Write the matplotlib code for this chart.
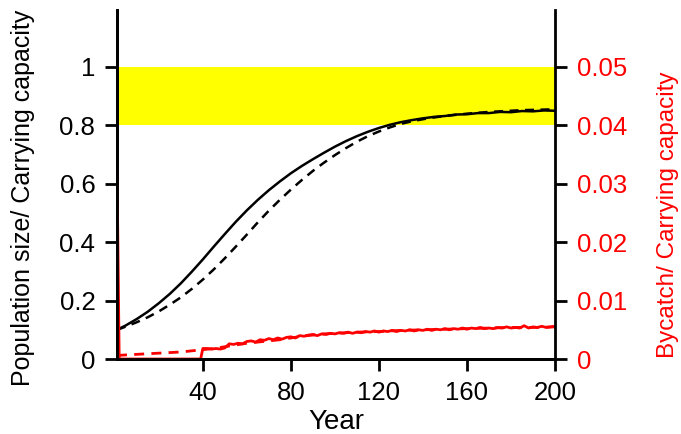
import matplotlib.pyplot as plt

plt.rcParams['font.family'] = ['Liberation Sans', 'DejaVu Sans']

# Population / carrying capacity (solid and dashed scenario), every 5 years
years_pop = [1, 5, 10, 15, 20, 25, 30, 35, 40, 45, 50, 55, 60, 65, 70, 75, 80,
             85, 90, 95, 100, 105, 110, 115, 120, 125, 130, 135, 140, 145, 150,
             155, 160, 165, 170, 175, 180, 185, 190, 195, 200]
pop_solid = [0.100, 0.115, 0.137, 0.162, 0.191, 0.223, 0.259, 0.299, 0.341,
             0.385, 0.428, 0.470, 0.509, 0.545, 0.578, 0.608, 0.636, 0.661,
             0.684, 0.706, 0.727, 0.746, 0.763, 0.778, 0.791, 0.802, 0.811,
             0.818, 0.824, 0.829, 0.832, 0.837, 0.838, 0.842, 0.842, 0.846,
             0.845, 0.849, 0.848, 0.851, 0.850]
pop_dashed = [0.100, 0.111, 0.126, 0.143, 0.163, 0.186, 0.211, 0.240, 0.272,
              0.307, 0.345, 0.385, 0.426, 0.468, 0.508, 0.545, 0.580, 0.613,
              0.644, 0.672, 0.698, 0.722, 0.744, 0.763, 0.779, 0.793, 0.805,
              0.814, 0.821, 0.827, 0.832, 0.836, 0.840, 0.843, 0.846, 0.848,
              0.850, 0.852, 0.853, 0.854, 0.855]

# Bycatch / carrying capacity
years_by = [1, 2, 39, 40, 42, 44, 46, 48, 50, 52, 54, 56, 58, 60, 62, 64, 66,
            68, 70, 72, 74, 76, 78, 80, 82, 84, 86, 88, 90, 92, 94, 96, 98,
            100, 102, 104, 106, 108, 110, 112, 114, 116, 118, 120, 122, 124,
            126, 128, 130, 132, 134, 136, 138, 140, 142, 144, 146, 148, 150,
            152, 154, 156, 158, 160, 162, 164, 166, 168, 170, 172, 174, 176,
            178, 180, 182, 184, 186, 188, 190, 192, 194, 196, 198, 200]
by_solid = [0.033, 0.0, 0.0, 0.0018, 0.0018, 0.0017, 0.0018, 0.0017, 0.0019,
            0.0026, 0.0025, 0.0027, 0.0026, 0.0030, 0.0031, 0.0029, 0.0033,
            0.0032, 0.0035, 0.0033, 0.0036, 0.0034, 0.0037, 0.0038, 0.0036,
            0.0040, 0.0039, 0.0041, 0.0042, 0.0040, 0.0043, 0.0042, 0.0044,
            0.0043, 0.0045, 0.0044, 0.0046, 0.0044, 0.0046, 0.0045, 0.0047,
            0.0046, 0.0048, 0.0046, 0.0048, 0.0047, 0.0049, 0.0047, 0.0049,
            0.0048, 0.0050, 0.0048, 0.0050, 0.0049, 0.0051, 0.0049, 0.0051,
            0.0050, 0.0052, 0.0050, 0.0052, 0.0051, 0.0053, 0.0051, 0.0053,
            0.0052, 0.0054, 0.0052, 0.0053, 0.0052, 0.0054, 0.0053, 0.0055,
            0.0053, 0.0054, 0.0053, 0.0057, 0.0053, 0.0055, 0.0054, 0.0056,
            0.0054, 0.0055, 0.0056]
years_by_d = [1, 5, 10, 15, 20, 25, 30, 35, 40, 45, 50, 55, 60, 65, 70, 75,
              80, 85, 90, 95, 100, 110, 120, 130, 140, 150, 160, 170, 180,
              190, 200]
by_dashed = [0.0006, 0.0007, 0.0008, 0.0009, 0.0010, 0.0011, 0.0012, 0.0014,
             0.0016, 0.0018, 0.0021, 0.0024, 0.0027, 0.0029, 0.0031, 0.0033,
             0.0036, 0.0039, 0.0041, 0.0043, 0.0044, 0.0046, 0.0047, 0.0049,
             0.0050, 0.0051, 0.0052, 0.0053, 0.0054, 0.0054, 0.0055]

fig = plt.figure(figsize=(6.81, 4.34), dpi=100)
ax = fig.add_axes([0.1718, 0.1728, 0.6432, 0.8042])

ax.axhspan(0.8, 1.0, color='#FFFF00', lw=0, zorder=0)
ax.plot(years_pop, pop_solid, color='black', lw=1.8)
ax.plot(years_pop, pop_dashed, color='black', lw=1.8, dashes=(3.6, 2.6))

ax.set_xlim(1, 200)
ax.set_ylim(0, 1.195)
ax.set_xticks([40, 80, 120, 160, 200])
ax.set_yticks([0, 0.2, 0.4, 0.6, 0.8, 1.0])
ax.set_yticklabels(['0', '0.2', '0.4', '0.6', '0.8', '1'])
ax.set_xlabel('Year', fontsize=20, labelpad=3)
ax.set_ylabel('Population size/ Carrying capacity', fontsize=18, va='center')
ax.yaxis.set_label_coords(-0.215, 0.461)

ax2 = ax.twinx()
ax2.plot(years_by, by_solid, color='#FF0000', lw=2.0)
ax2.plot(years_by_d, by_dashed, color='#FF0000', lw=2.0, dashes=(3.6, 2.6))
ax2.set_ylim(0, 1.195 / 20)
ax2.set_yticks([0, 0.01, 0.02, 0.03, 0.04, 0.05])
ax2.set_yticklabels(['0', '0.01', '0.02', '0.03', '0.04', '0.05'])
ax2.set_ylabel('Bycatch/ Carrying capacity', fontsize=17.5, color='#FF0000',
               va='center')
ax2.yaxis.set_label_coords(1.258, 0.413)

for a in (ax, ax2):
    a.spines['top'].set_visible(False)
    for s in a.spines.values():
        s.set_linewidth(2.0)
    a.tick_params(width=2.0, length=8.6, labelsize=18.5, pad=7)
ax2.tick_params(axis='y', labelcolor='#FF0000')
ax.spines['right'].set_visible(False)

plt.savefig('out.png', dpi=100)
